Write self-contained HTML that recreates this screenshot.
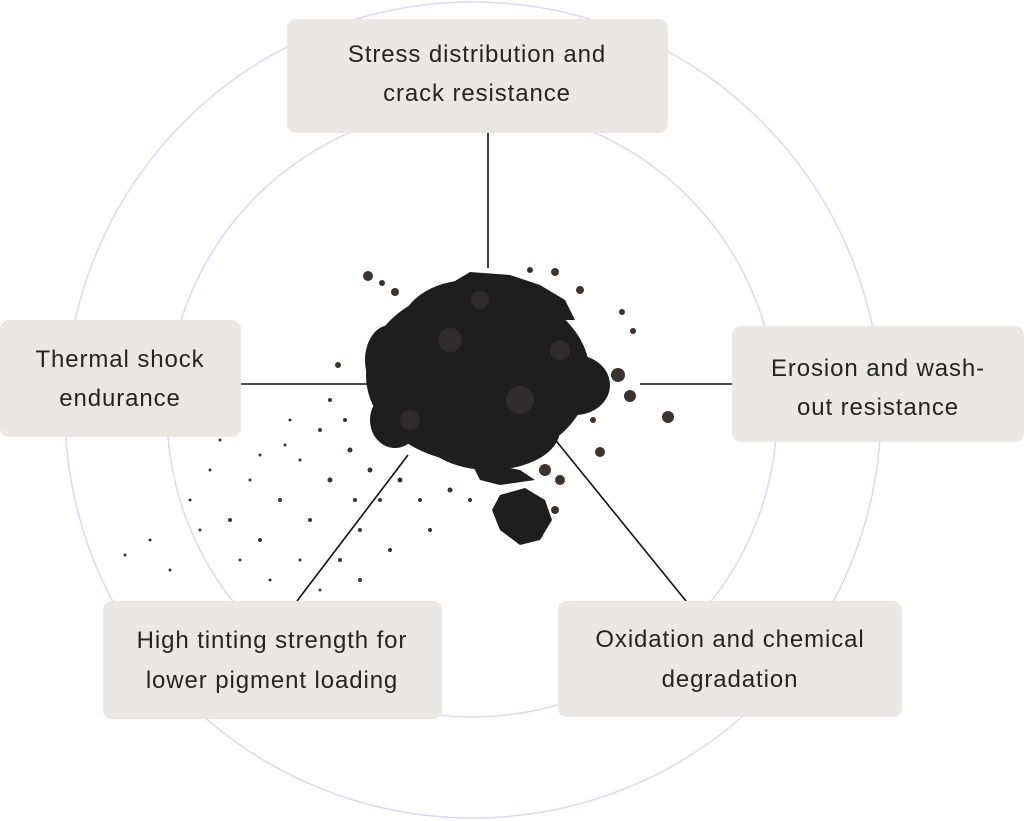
<!DOCTYPE html>
<html><head><meta charset="utf-8"><style>
html,body{margin:0;padding:0;background:#fff;width:1024px;height:821px;overflow:hidden}
svg text{font-family:"Liberation Sans",sans-serif;font-size:24px;letter-spacing:0.9px;fill:#242424}
</style></head><body>
<svg width="1024" height="821" viewBox="0 0 1024 821" xmlns="http://www.w3.org/2000/svg">
<circle cx="473" cy="410" r="408" fill="none" stroke="#dcd8f2" stroke-width="1.5"/>
<circle cx="472" cy="412" r="305" fill="none" stroke="#dcd8f2" stroke-width="1.5"/>
<g stroke="#111" stroke-width="1.6">
<line x1="488" y1="133" x2="488" y2="268"/>
<line x1="241" y1="384" x2="368" y2="384"/>
<line x1="640" y1="384" x2="732" y2="384"/>
<line x1="408" y1="455" x2="297" y2="601"/>
<line x1="553" y1="437" x2="686" y2="601"/>
</g>
<g fill="#3a3330">
<circle cx="190" cy="500" r="1.5"/><circle cx="210" cy="470" r="1.5"/><circle cx="230" cy="520" r="2"/><circle cx="250" cy="480" r="1.5"/><circle cx="260" cy="540" r="2"/><circle cx="280" cy="500" r="2"/><circle cx="300" cy="460" r="1.5"/><circle cx="310" cy="520" r="2"/><circle cx="320" cy="430" r="2"/><circle cx="330" cy="480" r="2.5"/><circle cx="340" cy="560" r="2"/><circle cx="350" cy="450" r="2.5"/><circle cx="355" cy="500" r="2"/><circle cx="360" cy="530" r="2"/><circle cx="370" cy="470" r="2.5"/><circle cx="380" cy="500" r="2"/><circle cx="390" cy="550" r="2"/><circle cx="400" cy="480" r="2.5"/><circle cx="420" cy="500" r="2"/><circle cx="430" cy="530" r="2"/><circle cx="450" cy="490" r="2.5"/><circle cx="470" cy="500" r="2"/><circle cx="300" cy="560" r="1.5"/><circle cx="270" cy="580" r="1.5"/><circle cx="240" cy="560" r="1.5"/><circle cx="150" cy="540" r="1.5"/><circle cx="125" cy="555" r="1.5"/><circle cx="320" cy="590" r="1.5"/><circle cx="360" cy="580" r="2"/><circle cx="345" cy="420" r="2"/><circle cx="330" cy="400" r="2"/><circle cx="338" cy="365" r="3"/><circle cx="290" cy="420" r="1.5"/><circle cx="285" cy="445" r="1.5"/><circle cx="260" cy="455" r="1.5"/><circle cx="220" cy="440" r="1.5"/><circle cx="200" cy="530" r="1.5"/><circle cx="170" cy="570" r="1.5"/>
<circle cx="368" cy="276" r="5"/><circle cx="382" cy="283" r="3"/><circle cx="395" cy="292" r="4"/><circle cx="668" cy="417" r="6"/><circle cx="630" cy="396" r="6"/><circle cx="618" cy="375" r="7"/><circle cx="600" cy="452" r="5"/><circle cx="593" cy="420" r="3"/><circle cx="622" cy="312" r="3"/><circle cx="633" cy="331" r="3"/><circle cx="580" cy="290" r="4"/><circle cx="555" cy="272" r="4"/><circle cx="530" cy="270" r="3"/><circle cx="560" cy="480" r="5"/><circle cx="545" cy="470" r="6"/><circle cx="540" cy="535" r="3"/><circle cx="555" cy="510" r="4"/>
</g>
<g fill="#1f1e1e">
<ellipse cx="478" cy="375" rx="112" ry="88"/>
<ellipse cx="470" cy="330" rx="70" ry="50"/>
<ellipse cx="490" cy="430" rx="70" ry="40"/>
<ellipse cx="575" cy="385" rx="35" ry="30"/>
<ellipse cx="390" cy="360" rx="25" ry="35"/>
<ellipse cx="395" cy="420" rx="25" ry="28"/>
<path d="M440 290 L470 272 L510 275 L540 285 L565 300 L575 320 L540 320 Z"/>
<path d="M470 460 L520 470 L535 480 L500 485 L480 480 Z"/>
<path d="M500 495 L525 488 L545 500 L552 520 L540 540 L520 545 L500 530 L492 510 Z"/>
</g>
<g fill="#2e2c2c">
<circle cx="450" cy="340" r="12"/><circle cx="520" cy="400" r="14"/><circle cx="410" cy="420" r="10"/><circle cx="560" cy="350" r="10"/><circle cx="480" cy="300" r="9"/>
</g>
<g fill="#ebe7e4">
<rect x="287" y="19" width="381" height="114" rx="9"/>
<rect x="0" y="320" width="241" height="117" rx="9"/>
<rect x="732" y="326" width="292" height="116" rx="9"/>
<rect x="103" y="601" width="339" height="118" rx="9"/>
<rect x="558" y="601" width="344" height="116" rx="9"/>
</g>
<g text-anchor="middle">
<text x="477" y="62">Stress distribution and</text>
<text x="477" y="101">crack resistance</text>
<text x="120" y="367">Thermal shock</text>
<text x="120" y="406">endurance</text>
<text x="878" y="376">Erosion and wash-</text>
<text x="878" y="415">out resistance</text>
<text x="272" y="648">High tinting strength for</text>
<text x="272" y="688">lower pigment loading</text>
<text x="730" y="647">Oxidation and chemical</text>
<text x="730" y="687">degradation</text>
</g>
</svg>
</body></html>
